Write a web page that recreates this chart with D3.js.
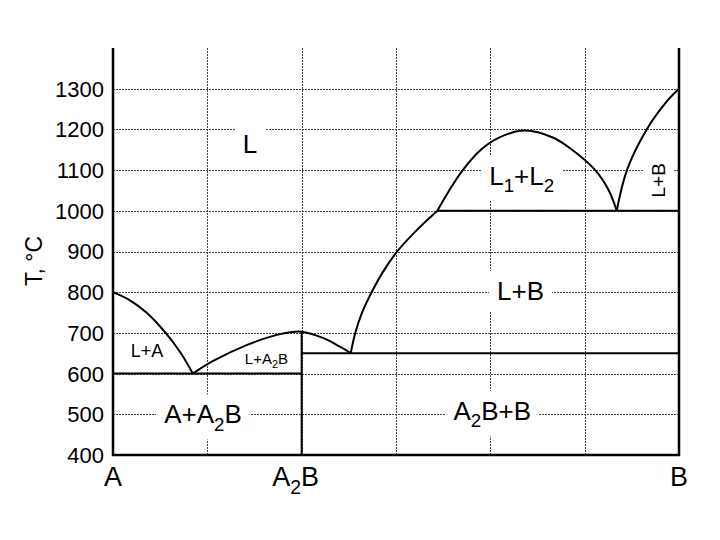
<!DOCTYPE html>
<html>
<head>
<meta charset="utf-8">
<script src="https://cdn.jsdelivr.net/npm/d3@7"></script>
<style>
  body { margin: 0; background: white; }
  text { font-family: "Liberation Sans", Arial, sans-serif; fill: black; }
</style>
</head>
<body>
<div id="chart"></div>
<script>

// Data: composition (fraction of B) and temperature (°C)
const tempTicks = [400, 500, 600, 700, 800, 900, 1000, 1100, 1200, 1300];
const gridComps = [1/6, 2/6, 3/6, 4/6, 5/6];
const compTicks = [0, 1/3, 1];
const compLabels = ["A", "A_2B", "B"];

const liquidusA = [[0, 800], [0.03, 780], [0.06, 749], [0.093, 700], [0.12, 650], [0.141, 600]];
const liquidusA2B = [[0.141, 600], [0.177, 631], [0.236, 670], [0.295, 697], [1/3, 703],
  [0.372, 687], [0.401, 666], [0.420, 650]];
const liquidusB = [[0.420, 650], [0.428, 700], [0.440, 750], [0.457, 800], [0.477, 850],
  [0.502, 900], [0.535, 950], [0.573, 1000]];
const miscibilityGap = [[0.573, 1000], [0.594, 1050], [0.618, 1100], [0.650, 1150], [0.682, 1180],
  [0.728, 1197], [0.777, 1180], [0.811, 1150], [0.852, 1100], [0.876, 1050], [0.890, 1000]];
const liquidusBRight = [[0.890, 1000], [0.908, 1100], [0.943, 1200], [0.981, 1273], [1, 1300]];

// Horizontal invariant lines [x1, x2, T]
const isotherms = [[0, 1/3, 600], [1/3, 1, 650], [0.573, 1, 1000]];
// Compound line [x, T1, T2]
const compoundLine = [1/3, 400, 703];

// Region labels (anchor in data units)
const regionText = ["L", "L+A", "L+A_2B", "A+A_2B", "A_2B+B", "L+B", "L_1+L_2", "L+B"];
const regionComp = [0.242, 0.060, 0.271, 0.159, 0.670, 0.720, 0.722, 0.975];
const regionTemp = [1143, 640, 623, 478, 486, 781, 1064, 1075];

const drawDiagram = () => {

  // Dimensions
  const width = 720;
  const height = 540;
  const left = 113, right = 679, top = 48, bottom = 455;

  const x = d3.scaleLinear().domain([0, 1]).range([left, right]);
  const y = d3.scaleLinear().domain([400, 1400]).range([bottom, top]);

  const svg = d3.select("#chart")
    .append("svg")
      .attr("width", width)
      .attr("height", height);

  // Text with "_n" subscripts
  const richText = (sel, str, size) => {
    const parts = str.split(/_(\d)/);
    parts.forEach((p, i) => {
      if (p === "") return;
      if (i % 2 === 1) {
        sel.append("tspan")
          .attr("font-size", size * 0.72)
          .attr("dy", size * 0.28)
          .text(p);
      } else {
        sel.append("tspan")
          .attr("font-size", size)
          .attr("dy", i > 0 ? -size * 0.28 : 0)
          .text(p);
      }
    });
  };

  // Gridlines
  const grid = svg.append("g")
      .attr("stroke", "#444")
      .attr("stroke-width", 1)
      .attr("stroke-dasharray", "2 1");
  grid.selectAll(".h-grid")
    .data(tempTicks.filter(t => t > 400))
    .join("line")
      .attr("x1", left)
      .attr("x2", right)
      .attr("y1", d => Math.round(y(d)) + 0.5)
      .attr("y2", d => Math.round(y(d)) + 0.5);
  grid.selectAll(".v-grid")
    .data(gridComps)
    .join("line")
      .attr("x1", d => Math.round(x(d)) + 0.5)
      .attr("x2", d => Math.round(x(d)) + 0.5)
      .attr("y1", top)
      .attr("y2", bottom);

  // Region labels with white boxes
  const labelSizes = [26, 18, 15, 26, 26, 26, 26, 19];
  const labelBox = [true, false, false, true, true, true, true, true];
  regionText.forEach((str, i) => {
    const g = svg.append("g");
    const t = g.append("text")
        .attr("text-anchor", "middle");
    richText(t, str, labelSizes[i]);
    if (i === 7) {
      t.attr("transform", `translate(${x(regionComp[i])},${y(regionTemp[i])}) rotate(-90)`);
    } else {
      t.attr("x", x(regionComp[i])).attr("y", y(regionTemp[i]));
      t.selectAll("tspan").filter((d, j) => j === 0).attr("x", x(regionComp[i]));
    }
    if (labelBox[i]) {
      const b = t.node().getBBox();
      const px = 8, py = 5;
      let r;
      if (i === 7) {
        r = { x: x(regionComp[i]) + b.y - py, y: y(regionTemp[i]) - b.x - b.width - px,
              w: b.height + 2 * py, h: b.width + 2 * px };
      } else {
        r = { x: b.x - px, y: b.y - py, w: b.width + 2 * px, h: b.height + 2 * py };
      }
      g.insert("rect", "text")
        .attr("x", r.x)
        .attr("y", r.y)
        .attr("width", r.w)
        .attr("height", r.h)
        .attr("fill", "white");
    }
  });

  // Phase boundaries
  const line = d3.line()
    .x(d => x(d[0]))
    .y(d => y(d[1]))
    .curve(d3.curveCatmullRom.alpha(0.5));
  svg.append("g")
      .attr("fill", "none")
      .attr("stroke", "black")
      .attr("stroke-width", 2)
    .selectAll("path")
    .data([liquidusA, liquidusA2B, liquidusB, miscibilityGap, liquidusBRight])
    .join("path")
      .attr("d", line);

  svg.append("g")
      .attr("stroke", "black")
      .attr("stroke-width", 2)
    .selectAll("line")
    .data(isotherms)
    .join("line")
      .attr("x1", d => x(d[0]))
      .attr("x2", d => x(d[1]))
      .attr("y1", d => y(d[2]))
      .attr("y2", d => y(d[2]));
  svg.append("line")
      .attr("stroke", "black")
      .attr("stroke-width", 2)
      .attr("x1", x(compoundLine[0]))
      .attr("x2", x(compoundLine[0]))
      .attr("y1", y(compoundLine[1]))
      .attr("y2", y(compoundLine[2]));

  // Frame (left, bottom, right)
  svg.append("path")
      .attr("fill", "none")
      .attr("stroke", "black")
      .attr("stroke-width", 2.5)
      .attr("d", `M${left},${top}V${bottom}H${right}V${top}`);

  // Y tick labels
  svg.append("g")
    .selectAll("text")
    .data(tempTicks)
    .join("text")
      .attr("x", 104)
      .attr("y", d => y(d))
      .attr("dy", "0.36em")
      .attr("text-anchor", "end")
      .attr("font-size", 22)
      .text(d => d);

  // X tick labels
  compTicks.forEach((c, i) => {
    const t = svg.append("text")
        .attr("x", x(c))
        .attr("y", 486)
        .attr("text-anchor", "middle");
    richText(t, compLabels[i], 27);
    t.selectAll("tspan").filter((d, j) => j === 0).attr("x", i === 1 ? x(c) - 6 : x(c));
  });

  // Y axis title
  svg.append("text")
      .attr("transform", "translate(42, 261) rotate(-90)")
      .attr("text-anchor", "middle")
      .attr("font-size", 23)
      .text("T, °C");
};

drawDiagram();
</script>
</body>
</html>
